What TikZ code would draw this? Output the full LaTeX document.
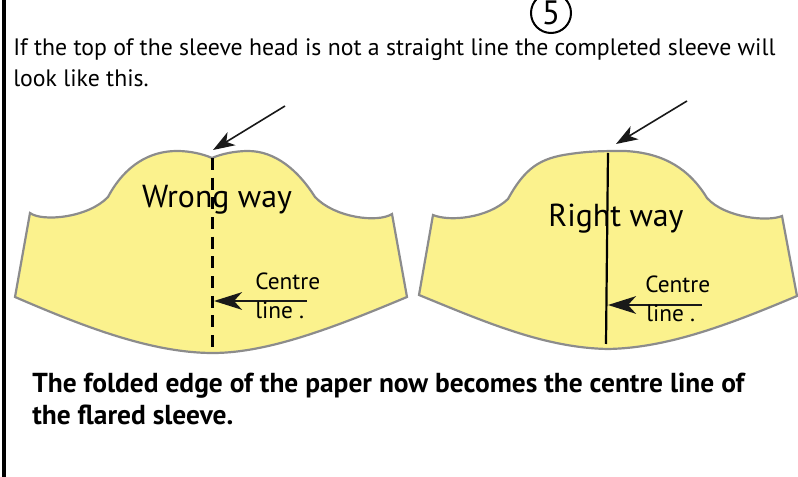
\documentclass[tikz,border=0pt]{standalone}
\usepackage{fontspec}
\setmainfont{PT Sans}
\usetikzlibrary{arrows.meta,positioning}
\definecolor{sleevefill}{HTML}{FBF28D}
\definecolor{sleeveedge}{HTML}{8C8C8C}
\begin{document}
\begin{tikzpicture}[
    x=0.025cm, y=-0.025cm,
    sleeve/.style={draw=sleeveedge, fill=sleevefill, line width=0.55mm},
    bodytext/.style={inner sep=0, anchor=base west, font=\fontsize{16.9pt}{19pt}\selectfont},
    boldtext/.style={inner sep=0, anchor=base west, font=\fontsize{19.5pt}{22pt}\selectfont\bfseries},
    wayname/.style={inner sep=0, font=\fontsize{22.6pt}{26pt}\selectfont},
    linename/.style={inner sep=0, anchor=base west, font=\fontsize{16.6pt}{18pt}\selectfont},
    arrow/.style={-{Stealth[length=5.4mm, width=3.8mm, inset=1.5mm]}, line width=0.4mm, color=black!90},
    longarrow/.style={-{Stealth[length=7mm, width=4.4mm, inset=2mm]}, line width=0.5mm, color=black!90},
    centre/.style={black, line width=0.55mm}
]
    \useasboundingbox (0,0) rectangle (798,477);

    % Rand und Nummer
    \coordinate (edgetop) at (4,0);
    \coordinate (edgebot) at (4,477);
    \draw[line width=0.75mm] (edgetop) -- (edgebot);
    \node[draw, circle, line width=0.5mm, minimum size=1cm, inner sep=0, font=\fontsize{24pt}{26pt}\selectfont] (num) at (551,13) {5};

    % Text oben
    \node[bodytext] (intro) at (13,56) {If the top of the sleeve head is not a straight line the completed sleeve will};
    \node[bodytext] (introb) at (13,87) {look like this.};

    % Linker Schnitt
    \path[sleeve] (30,213) .. controls (42,222) and (88,218) .. (108,197)
        .. controls (125,165) and (150,151) .. (177,151)
        .. controls (190,151) and (203,154) .. (212,158)
        .. controls (221,154) and (235,151) .. (248,151)
        .. controls (275,151) and (298,170) .. (315,197)
        .. controls (335,218) and (378,223) .. (392,214)
        -- (407,297) .. controls (340,325) and (270,353) .. (213,353)
        .. controls (150,353) and (80,325) .. (15,297) -- cycle;
    \coordinate (wtop) at (212,158);
    \coordinate (wbot) at (212,353);
    \coordinate (wmid) at (214,301);
    \coordinate (wstart) at (307,301);
    \coordinate (whead) at (213,150);
    \coordinate (wfrom) at (285,106);
    \draw[centre, dash pattern=on 8.5pt off 5.5pt, line width=0.75mm] (wtop) -- (wbot);
    \draw[arrow] (wfrom) -- (whead);
    \draw[longarrow] (wstart) -- (wmid);
    \node[wayname] (wrong) at (217,200) {Wrong way};
    \node[linename] (wcentre) at (255,290) {Centre};
    \node[linename] (wline) at (255,319) {line .};

    % Rechter Schnitt
    \path[sleeve] (433,215) .. controls (450,222) and (488,218) .. (508,199)
        .. controls (525,168) and (540,158) .. (570,154)
        .. controls (590,151) and (605,151) .. (625,151)
        .. controls (665,153) and (690,170) .. (707,198)
        .. controls (725,218) and (768,222) .. (782,216)
        -- (797,296) .. controls (735,322) and (670,348) .. (608,349)
        .. controls (545,348) and (485,322) .. (419,295) -- cycle;
    \coordinate (rtop) at (608,153);
    \coordinate (rbot) at (606,344);
    \coordinate (rmid) at (608,305);
    \coordinate (rstart) at (702,305);
    \coordinate (rhead) at (616,144);
    \coordinate (rfrom) at (687,101);
    \draw[centre] (rtop) -- (rbot);
    \draw[arrow] (rfrom) -- (rhead);
    \draw[longarrow] (rstart) -- (rmid);
    \node[wayname] (right) at (616,219) {Right way};
    \node[linename] (rcentre) at (645,293) {Centre};
    \node[linename] (rline) at (646,322) {line .};

    % Text unten
    \node[boldtext] (foot) at (32,393) {The folded edge of the paper now becomes the centre line of};
    \node[boldtext] (footb) at (32,425) {the flared sleeve.};
\end{tikzpicture}
\end{document}
